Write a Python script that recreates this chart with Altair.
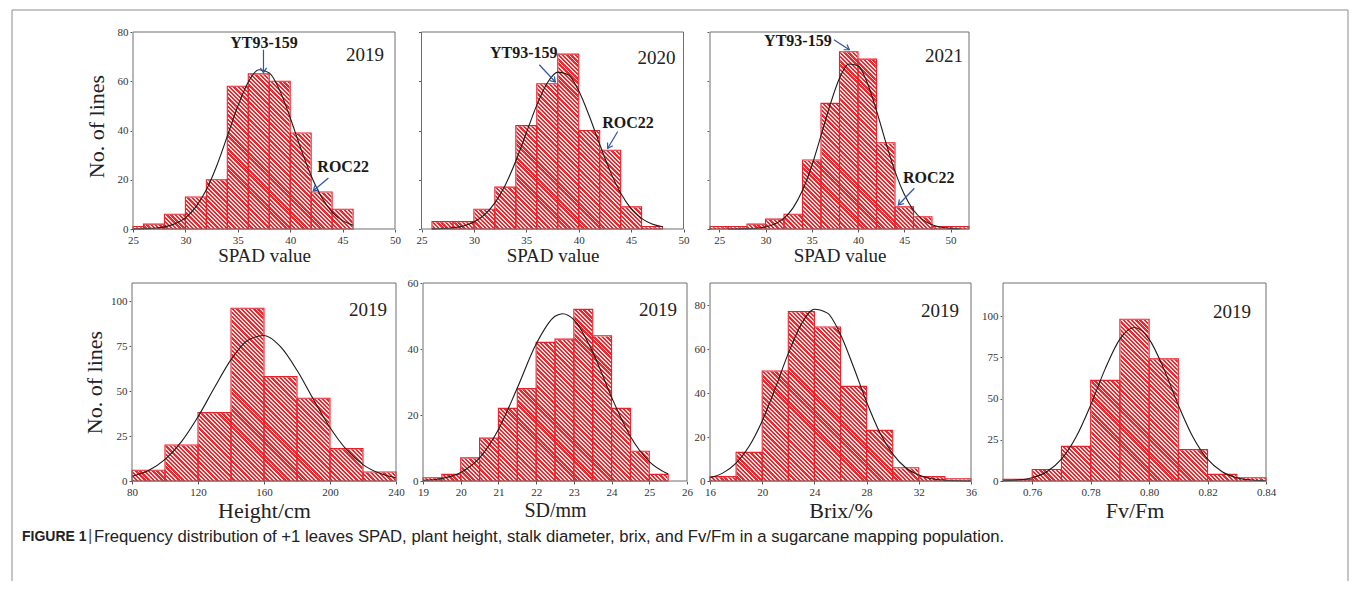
import math
import altair as alt
import pandas as pd

SERIF = "Liberation Serif"
SANS = "Liberation Sans"
HATCH_RED = "#f0262c"
HATCH_GAP = "#fde2e2"
BAR_STROKE = "#e8202a"
ARROW = "#2f55a4"
CURVE = "#1a1a1a"
FRAME = "#8c8c8c"
BOX = "#6e6e6e"

# ---------------- data ----------------
SPAD19_START = [24, 26, 28, 30, 32, 34, 36, 38, 40, 42, 44]
SPAD19_COUNT = [1, 2, 6, 13, 20, 58, 63, 60, 39, 15, 8]
SPAD19_CX = [25, 26, 27, 28, 29, 30, 31, 32, 33, 34, 35, 36, 37, 38, 39, 40, 41, 42, 43, 44, 45, 46]
SPAD19_CY = [0.03, 0.11, 0.32, 0.86, 2.1, 4.5, 9.0, 15.9, 25.8, 37.7, 49.9, 59.7, 64.7, 63.4,
             56.3, 45.2, 32.8, 21.6, 12.9, 6.9, 3.4, 1.5]

SPAD20_START = [26, 28, 30, 32, 34, 36, 38, 40, 42, 44, 46]
SPAD20_COUNT = [3, 3, 8, 17, 42, 59, 71, 40, 32, 9, 1]
SPAD20_CX = [26, 27, 28, 29, 30, 31, 32, 33, 34, 35, 36, 37, 38, 39, 40, 41, 42, 43, 44, 45, 46, 47, 48]
SPAD20_CY = [0.07, 0.19, 0.52, 1.25, 2.8, 5.7, 10.6, 17.9, 27.6, 39.0, 50.3, 59.3, 63.7, 62.6,
             56.1, 46.0, 34.4, 23.5, 14.6, 8.3, 4.3, 2.0, 0.9]

SPAD21_START = [24, 26, 28, 30, 32, 34, 36, 38, 40, 42, 44, 46, 48, 50]
SPAD21_COUNT = [1, 1, 2, 4, 6, 28, 51, 72, 69, 35, 9, 5, 1, 1]
SPAD21_CX = [26, 27, 28, 29, 30, 31, 32, 33, 34, 35, 36, 37, 38, 39, 40, 41, 42, 43, 44, 45, 46,
             47, 48, 49, 50, 51]
SPAD21_CY = [0.01, 0.03, 0.1, 0.3, 0.81, 2.0, 4.4, 8.7, 15.7, 25.6, 37.9, 50.6, 61.2, 67.0, 66.3,
             59.4, 48.1, 35.3, 23.4, 14.1, 7.6, 3.8, 1.7, 0.68, 0.24, 0.08]

HEIGHT_START = [80, 100, 120, 140, 160, 180, 200, 220]
HEIGHT_COUNT = [6, 20, 38, 96, 58, 46, 18, 5]
HEIGHT_CX = [80, 90, 100, 110, 120, 130, 140, 150, 160, 170, 180, 190, 200, 210, 220, 230, 240]
HEIGHT_CY = [2.6, 5.8, 12.0, 21.9, 35.7, 51.9, 67.4, 78.1, 80.8, 74.6, 61.5, 45.3, 29.7, 17.4,
             9.1, 4.3, 1.8]

SD_START = [19.0, 19.5, 20.0, 20.5, 21.0, 21.5, 22.0, 22.5, 23.0, 23.5, 24.0, 24.5, 25.0]
SD_COUNT = [1, 2, 7, 13, 22, 28, 42, 43, 52, 44, 22, 9, 2]
SD_CX = [19.0, 19.5, 20.0, 20.5, 21.0, 21.5, 22.0, 22.5, 22.7, 23.0, 23.5, 24.0, 24.5, 25.0, 25.5]
SD_CY = [0.19, 0.78, 2.6, 7.0, 15.6, 28.2, 41.5, 49.9, 50.7, 48.9, 39.1, 25.4, 13.5, 5.9, 2.1]

BRIX_START = [16, 18, 20, 22, 24, 26, 28, 30, 32, 34]
BRIX_COUNT = [2, 13, 50, 77, 70, 43, 23, 6, 2, 1]
BRIX_CX = [16, 17, 18, 19, 20, 21, 22, 23, 24, 25, 26, 27, 28, 29, 30, 31, 32, 33, 34, 35, 36]
BRIX_CY = [1.5, 3.7, 8.1, 15.8, 27.3, 42.1, 58.0, 71.3, 78.1, 76.3, 66.6, 51.8, 35.9, 22.2,
           12.3, 6.0, 2.7, 1.0, 0.36, 0.11, 0.03]

FVFM_START = [0.75, 0.76, 0.77, 0.78, 0.79, 0.80, 0.81, 0.82, 0.83]
FVFM_COUNT = [1, 7, 21, 61, 98, 74, 19, 4, 2]
FVFM_CX = [0.750, 0.755, 0.760, 0.765, 0.770, 0.775, 0.780, 0.785, 0.790, 0.795, 0.800, 0.805,
           0.810, 0.815, 0.820, 0.825, 0.830, 0.835, 0.840]
FVFM_CY = [0.17, 0.63, 2.0, 5.6, 13.2, 26.6, 46.0, 68.1, 86.0, 93.0, 86.0, 68.1, 46.0, 26.6,
           13.2, 5.6, 2.0, 0.63, 0.17]

NOTE_LABELS = ["YT93-159", "ROC22"]
NOTES_19_X = [37.5, 45.05]
NOTES_19_Y = [73.6, 23.0]
NOTES_20_X = [34.76, 44.71]
NOTES_20_Y = [69.4, 40.95]
NOTES_21_X = [33.5, 47.64]
NOTES_21_Y = [74.4, 18.6]

ARROWS_19 = {"x1": [37.45, 43.65], "y1": [72.8, 20.7], "x2": [37.45, 42.2], "y2": [63.5, 15.5],
             "ang": [90, 140]}
ARROWS_20 = {"x1": [36.24, 43.72], "y1": [66.7, 39.6], "x2": [37.77, 42.77], "y2": [59.7, 32.8],
             "ang": [47, 121]}
ARROWS_21 = {"x1": [37.4, 46.09], "y1": [76.9, 16.55], "x2": [39.06, 44.36], "y2": [72.8, 9.76],
             "ang": [33, 134]}

CAPTION_BOLD = "FIGURE 1"
CAPTION_TEXT = ("Frequency distribution of +1 leaves SPAD, plant height, stalk diameter, brix, "
                "and Fv/Fm in a sugarcane mapping population.")

ONE = pd.DataFrame({"a": [0]})
TOTAL_W = 1341
TOTAL_H = 573


def hatch_fill(w, h, period=3.0, duty=0.55):
    """Diagonal ('\\') stripe gradient filling a w x h box (style only)."""
    r = h / w
    f = (1 + r) / (1 + r * r)
    dt = math.sqrt(2) / (w * f * (1 + r * r))  # gradient offset per perpendicular pixel
    p = period * dt
    stops = []
    k = 0
    while k * p < 1:
        a = k * p
        b = min(a + duty * p, 1)
        c = min(a + p, 1)
        stops += [alt.GradientStop(offset=round(a, 5), color=HATCH_RED),
                  alt.GradientStop(offset=round(b, 5), color=HATCH_RED),
                  alt.GradientStop(offset=round(b, 5), color=HATCH_GAP),
                  alt.GradientStop(offset=round(c, 5), color=HATCH_GAP)]
        k += 1
    return alt.LinearGradient(gradient="linear", stops=stops, x1=0, y1=1, x2=f, y2=1 - r * f)


def panel_layers(starts, counts, binw, cx, cy, xdom, xticks, ydom, yticks, box,
                 xtitle, xtitle_size, xtitle_y, year, year_dx, year_y,
                 ylabels=True, ytitle=None, ytitle_x=-37, ytitle_y=0, fmt=None,
                 notes=None, arrows=None):
    L, T, R, B = box
    ends = [round(s + binw, 4) for s in starts]
    bars_df = pd.DataFrame({"start": starts, "end": ends, "count": counts,
                            "base": [0] * len(starts)})
    # white masks above each bar and outside the binned range
    mask_df = pd.DataFrame({
        "start": starts + [xdom[0], ends[-1]],
        "end": ends + [starts[0], xdom[1]],
        "count": counts + [0, 0],
        "top": [ydom[1]] * (len(starts) + 2)})
    curve_df = pd.DataFrame({"x": cx, "y": cy})

    def xs():
        return alt.Scale(domain=xdom, range=[L, R], nice=False, zero=False, clamp=True)

    def ys():
        return alt.Scale(domain=ydom, range=[B, T], nice=False, zero=False)

    xa = dict(orient="bottom", offset=B - TOTAL_H, values=xticks, title=xtitle,
              titleFontSize=xtitle_size, titleY=xtitle_y, titleBaseline="alphabetic",
              labelFlush=False)
    if fmt:
        xa["format"] = fmt
    ya = dict(orient="left", offset=-L, values=yticks, labels=ylabels)
    if ytitle:
        ya.update(title=ytitle, titleFontSize=22, titleX=ytitle_x, titleY=ytitle_y,
                  titleAngle=270, titleAlign="center", titleBaseline="middle")
    else:
        ya["title"] = None

    layers = []
    layers.append(alt.Chart(ONE).mark_rect(fill=hatch_fill(R - L, B - T)).encode(
        x=alt.value(L), x2=alt.value(R), y=alt.value(T), y2=alt.value(B)))
    layers.append(alt.Chart(mask_df).mark_rect(fill="white", stroke="white",
                                               strokeWidth=1.2).encode(
        x=alt.X("start:Q", scale=xs(), axis=None), x2="end:Q",
        y=alt.Y("count:Q", scale=ys(), axis=None), y2="top:Q"))
    layers.append(alt.Chart(bars_df).mark_rect(fillOpacity=0, fill="white", stroke=BAR_STROKE,
                                               strokeWidth=1.1).encode(
        x=alt.X("start:Q", scale=xs(), axis=alt.Axis(**xa)),
        x2="end:Q",
        y=alt.Y("count:Q", scale=ys(), axis=alt.Axis(**ya)),
        y2="base:Q"))
    layers.append(alt.Chart(curve_df).mark_line(color=CURVE, strokeWidth=1.1,
                                                interpolate="monotone").encode(
        x=alt.X("x:Q", scale=xs(), axis=None),
        y=alt.Y("y:Q", scale=ys(), axis=None)))
    layers.append(alt.Chart(ONE).mark_rect(fillOpacity=0, fill="white", stroke=BOX,
                                           strokeWidth=1).encode(
        x=alt.value(L), x2=alt.value(R), y=alt.value(T), y2=alt.value(B)))
    layers.append(alt.Chart(pd.DataFrame({"t": [year]})).mark_text(
        align="right", baseline="alphabetic", font=SERIF, fontSize=19, color="#222222").encode(
        x=alt.value(R - year_dx), y=alt.value(T + year_y), text="t:N"))
    if notes is not None:
        ndf = pd.DataFrame({"label": NOTE_LABELS, "x": notes[0], "y": notes[1]})
        layers.append(alt.Chart(ndf).mark_text(
            font=SERIF, fontWeight="bold", fontSize=16, align="center", baseline="alphabetic",
            color="#1a1a1a").encode(
            x=alt.X("x:Q", scale=xs(), axis=None),
            y=alt.Y("y:Q", scale=ys(), axis=None), text="label:N"))
    if arrows is not None:
        adf = pd.DataFrame(arrows)
        layers.append(alt.Chart(adf).mark_rule(color=ARROW, strokeWidth=1.2).encode(
            x=alt.X("x1:Q", scale=xs(), axis=None),
            y=alt.Y("y1:Q", scale=ys(), axis=None),
            x2="x2:Q", y2="y2:Q"))
        layers.append(alt.Chart(adf).mark_point(
            shape="M-1,-0.65L0,0L-1,0.65", filled=False, size=90, strokeWidth=1.2,
            color=ARROW, opacity=1).encode(
            x=alt.X("x2:Q", scale=xs(), axis=None),
            y=alt.Y("y2:Q", scale=ys(), axis=None),
            angle=alt.Angle("ang:Q", scale=None)))
    return layers


# panel boxes (left, top, right, bottom) in chart pixels
R1T, R1B = 24, 221
R2T, R2B = 275, 473
SPAD_TICKS = [25, 30, 35, 40, 45, 50]
SPAD_Y = [0, 20, 40, 60, 80]

layers = []
layers += panel_layers(SPAD19_START, SPAD19_COUNT, 2, SPAD19_CX, SPAD19_CY, [25, 50], SPAD_TICKS,
                       [0, 80], SPAD_Y, (125, R1T, 387, R1B), "SPAD value", 19, 32, "2019", 11, 29,
                       ytitle="No. of lines", ytitle_x=-37, ytitle_y=118,
                       notes=(NOTES_19_X, NOTES_19_Y), arrows=ARROWS_19)
layers += panel_layers(SPAD20_START, SPAD20_COUNT, 2, SPAD20_CX, SPAD20_CY, [25, 50], SPAD_TICKS,
                       [0, 80], SPAD_Y, (413.5, R1T, 675.5, R1B), "SPAD value", 19, 32, "2020",
                       8, 32, ylabels=False, notes=(NOTES_20_X, NOTES_20_Y), arrows=ARROWS_20)
layers += panel_layers(SPAD21_START, SPAD21_COUNT, 2, SPAD21_CX, SPAD21_CY, [24, 52], SPAD_TICKS,
                       [0, 80], SPAD_Y, (702, R1T, 961, R1B), "SPAD value", 19, 32, "2021",
                       6, 30, ylabels=False, notes=(NOTES_21_X, NOTES_21_Y), arrows=ARROWS_21)
layers += panel_layers(HEIGHT_START, HEIGHT_COUNT, 20, HEIGHT_CX, HEIGHT_CY, [80, 240],
                       [80, 120, 160, 200, 240], [0, 110], [0, 25, 50, 75, 100],
                       (124, R2T, 388, R2B), "Height/cm", 22, 36, "2019", 9, 33,
                       ytitle="No. of lines", ytitle_x=-38, ytitle_y=374)
layers += panel_layers(SD_START, SD_COUNT, 0.5, SD_CX, SD_CY, [19, 26],
                       [19, 20, 21, 22, 23, 24, 25, 26], [0, 60], [0, 20, 40, 60],
                       (415, R2T, 679, R2B), "SD/mm", 20, 35, "2019", 10, 33)
layers += panel_layers(BRIX_START, BRIX_COUNT, 2, BRIX_CX, BRIX_CY, [16, 36],
                       [16, 20, 24, 28, 32, 36], [0, 90], [0, 20, 40, 60, 80],
                       (702, R2T, 963, R2B), "Brix/%", 22, 36, "2019", 12, 34)
layers += panel_layers(FVFM_START, FVFM_COUNT, 0.01, FVFM_CX, FVFM_CY, [0.75, 0.84],
                       [0.76, 0.78, 0.80, 0.82, 0.84], [0, 120], [0, 25, 50, 75, 100],
                       (995, R2T, 1258, R2B), "Fv/Fm", 22, 36, "2019", 15, 35, fmt=".2f")

# ---- figure frame + caption ----
FL, FT, FR = 4, 2, 1340
layers.append(alt.Chart(ONE).mark_rule(color=FRAME, strokeWidth=1).encode(
    x=alt.value(FL), y=alt.value(FT), y2=alt.value(TOTAL_H)))
layers.append(alt.Chart(ONE).mark_rule(color=FRAME, strokeWidth=1).encode(
    x=alt.value(FR), y=alt.value(FT), y2=alt.value(TOTAL_H)))
layers.append(alt.Chart(ONE).mark_rule(color=FRAME, strokeWidth=1).encode(
    x=alt.value(FL), x2=alt.value(FR), y=alt.value(FT)))
layers.append(alt.Chart(pd.DataFrame({"t": [CAPTION_BOLD]})).mark_text(
    font=SANS, fontWeight="bold", fontSize=14, align="left", baseline="middle",
    color="#222222").encode(x=alt.value(14), y=alt.value(529), text="t:N"))
layers.append(alt.Chart(pd.DataFrame({"t": ["|"]})).mark_text(
    font=SANS, fontSize=17, align="left", baseline="middle", color="#555555").encode(
    x=alt.value(80), y=alt.value(528), text="t:N"))
layers.append(alt.Chart(pd.DataFrame({"t": [CAPTION_TEXT]})).mark_text(
    font=SANS, fontSize=16.7, align="left", baseline="middle", color="#222222").encode(
    x=alt.value(86), y=alt.value(529), text="t:N"))

chart = alt.layer(*layers).resolve_scale(x="independent", y="independent").resolve_axis(
    x="independent", y="independent").properties(
    width=TOTAL_W, height=TOTAL_H, padding=0,
    autosize=alt.AutoSizeParams(type="none"), background="white"
).configure_view(stroke="transparent", strokeWidth=0).configure_axis(
    labelFont=SERIF, titleFont=SERIF, labelColor="#333333", tickColor="#555555",
    domain=False, grid=False, labelFontSize=11, titleColor="#222222",
    titleFontWeight="normal", tickSize=3, labelPadding=2)

chart.save("out.html", embed_options={"renderer": "svg", "actions": False})
